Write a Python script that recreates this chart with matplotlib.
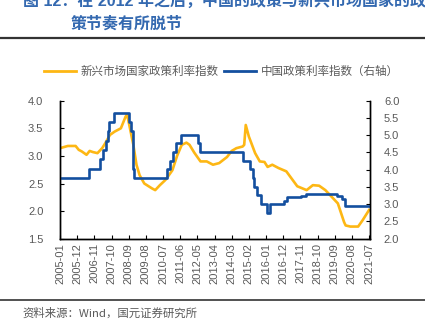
import matplotlib
matplotlib.use("Agg")
from matplotlib import pyplot as plt
from matplotlib.lines import Line2D

plt.rcParams['font.family'] = ['Liberation Sans', 'Noto Sans CJK SC', 'DejaVu Sans']

# emerging-market policy rate index (left axis), monthly readings
em_dates = ["2005-01", "2005-06", "2005-11", "2006-01", "2006-03", "2006-06", "2006-08",
            "2006-10", "2007-01", "2007-04", "2007-06", "2007-09", "2007-12", "2008-04",
            "2008-07", "2008-08", "2008-12", "2009-02", "2009-04", "2009-07", "2009-12",
            "2010-02", "2010-05", "2010-08", "2010-09", "2011-01", "2011-04", "2011-07",
            "2011-10", "2011-12", "2012-03", "2012-07", "2012-11", "2013-03", "2013-07",
            "2013-12", "2014-03", "2014-06", "2014-10", "2014-11", "2014-12", "2015-02",
            "2015-04", "2015-06", "2015-09", "2015-12", "2016-02", "2016-05", "2016-09",
            "2017-02", "2017-09", "2018-03", "2018-07", "2018-11", "2019-03", "2019-07",
            "2019-11", "2020-03", "2020-04", "2020-07", "2020-12", "2021-03", "2021-07"]
em_rate = [3.14, 3.18, 3.18, 3.11, 3.08, 3.02, 3.09,
           3.07, 3.05, 3.14, 3.23, 3.38, 3.44, 3.50,
           3.71, 3.75, 3.20, 2.84, 2.65, 2.50, 2.41,
           2.38, 2.47, 2.55, 2.58, 2.74, 3.00, 3.20,
           3.24, 3.20, 3.06, 2.90, 2.90, 2.84, 2.87,
           2.98, 3.09, 3.14, 3.17, 3.20, 3.56, 3.35,
           3.20, 3.05, 2.90, 2.89, 2.80, 2.84, 2.78,
           2.72, 2.45, 2.38, 2.47, 2.46, 2.38, 2.26,
           2.14, 1.80, 1.74, 1.72, 1.72, 1.84, 2.02]

# China policy rate index (right axis): level after each change
cn_dates = ["2005-01", "2006-08", "2007-03", "2007-05", "2007-07", "2007-08", "2007-09",
            "2007-12", "2008-10", "2008-11", "2008-12", "2009-01", "2010-10", "2010-12",
            "2011-02", "2011-04", "2011-07", "2012-06", "2012-07", "2014-11", "2015-03",
            "2015-05", "2015-06", "2015-08", "2015-10", "2016-02", "2016-04", "2017-01",
            "2017-03", "2017-12", "2018-03", "2019-11", "2020-02", "2020-04", "2021-07"]
cn_rate = [3.76, 4.03, 4.30, 4.57, 4.84, 5.11, 5.38,
           5.65, 5.38, 5.11, 4.03, 3.76, 4.01, 4.26,
           4.51, 4.76, 5.01, 4.76, 4.51, 4.26, 4.01,
           3.76, 3.51, 3.26, 3.01, 2.75, 3.01, 3.10,
           3.20, 3.25, 3.30, 3.25, 3.15, 2.95, 2.95]

tick_labels = ["2005-01", "2005-12", "2006-11", "2007-10", "2008-09", "2009-08", "2010-07",
               "2011-06", "2012-05", "2013-04", "2014-03", "2015-02", "2016-01", "2016-12",
               "2017-11", "2018-10", "2019-09", "2020-08", "2021-07"]


def month_index(s):
    y, m = s.split("-")
    return (int(y) - 2005) * 12 + int(m) - 1


YELLOW = "#FDB714"
BLUE = "#134F9F"
GRAY = "#595959"
TITLE = "#3469B0"

fig = plt.figure(figsize=(4.25, 3.28), dpi=100)
ax = fig.add_axes([60 / 425, 1 - 238.7 / 328, 310 / 425, 138 / 328])
ax2 = ax.twinx()

em_x = [month_index(d) for d in em_dates]
cn_x = [month_index(d) - 0.5 for d in cn_dates]
cn_x[0] = 0
cn_x[-1] = month_index(cn_dates[-1])

ax.plot(em_x, em_rate, color=YELLOW, lw=1.9, solid_joinstyle="round")
ax2.step(cn_x, cn_rate, where="post", color=BLUE, lw=1.9)

ax.set_xlim(0, 198.6)
ax.set_ylim(1.5, 4.0)
ax2.set_ylim(2.0, 6.0)
ax.set_yticks([1.5, 2.0, 2.5, 3.0, 3.5, 4.0])
ax.set_yticklabels(["1.5", "2.0", "2.5", "3.0", "3.5", "4.0"])
ax2.set_yticks([2.0, 2.5, 3.0, 3.5, 4.0, 4.5, 5.0, 5.5, 6.0])
ax2.set_yticklabels([f"{v:.1f}" for v in ax2.get_yticks()])
ax.set_xticks([month_index(t) for t in tick_labels])
ax.set_xticklabels(tick_labels, rotation=90)

for a in (ax, ax2):
    a.spines["top"].set_visible(False)
    for s in ("left", "right", "bottom"):
        a.spines[s].set_linewidth(1.0)
        a.spines[s].set_color("black")
    a.tick_params(direction="in", length=3, width=0.8, colors="black",
                  labelcolor=GRAY, labelsize=8, pad=4)
ax.tick_params(axis="x", pad=3)
ax.tick_params(axis="y", pad=12)
ax2.tick_params(axis="y", pad=10)

handles = [Line2D([], [], color=YELLOW, lw=2), Line2D([], [], color=BLUE, lw=2)]
fig.legend(handles, ["新兴市场国家政策利率指数", "中国政策利率指数（右轴）"],
           loc="center", bbox_to_anchor=(0.52, 1 - 71.5 / 328), ncol=2, frameon=False,
           labelcolor=GRAY, handlelength=2.8, handletextpad=0.4,
           columnspacing=0.45, prop={"family": ["Noto Sans CJK SC"], "size": 8.3})

title_font = ["Liberation Sans", "Noto Sans CJK SC"]
fig.text(23 / 425, 1 - 0.5 / 328, "图 12：在 2012 年之后，中国的政策与新兴市场国家的政",
         color=TITLE, fontsize=11.5, fontweight="bold", va="center", family=title_font)
fig.text(71 / 425, 1 - 24 / 328, "策节奏有所脱节", color=TITLE, fontsize=11.5,
         fontweight="bold", va="center", family=title_font)

fig.add_artist(Line2D([0, 1], [1 - 37.5 / 328] * 2, color="#333333", lw=1.6))
fig.add_artist(Line2D([0, 1], [1 - 300 / 328] * 2, color="#333333", lw=1.2))

fig.text(22 / 425, 1 - 313 / 328, "资料来源：Wind，国元证券研究所", color=GRAY,
         fontsize=8.2, va="center", family=["Noto Sans CJK SC"])

fig.savefig("out.png", dpi=100)
